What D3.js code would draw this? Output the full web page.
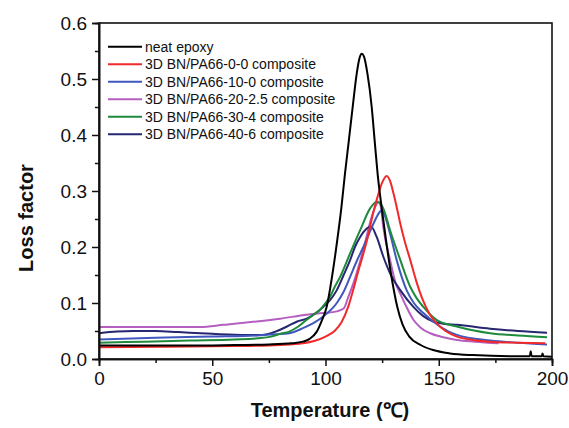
<!DOCTYPE html>
<html>
<head>
<meta charset="utf-8">
<script src="https://cdn.jsdelivr.net/npm/d3@7"></script>
<style>
  html, body { margin: 0; padding: 0; background: #fff; }
  svg { display: block; font-family: "Liberation Sans", Arial, sans-serif; }
</style>
</head>
<body>
<svg id="chart" width="569" height="428"></svg>
<script>
// ---- data ----
const seriesNames = [
  "neat epoxy",
  "3D BN/PA66-0-0 composite",
  "3D BN/PA66-10-0 composite",
  "3D BN/PA66-20-2.5 composite",
  "3D BN/PA66-30-4 composite",
  "3D BN/PA66-40-6 composite"
];
const seriesColors = ["#000000", "#f02a2a", "#4058bd", "#b55fc0", "#1f8a3c", "#262671"];

const neatEpoxy = [[0,0.024],[20,0.024],[40,0.024],[60,0.025],[75,0.026],[85,0.028],[90,0.031],[93,0.036],[96,0.048],[98.5,0.07],[100.5,0.093],[103,0.15],[105.2,0.2125],[107,0.27],[108.6,0.331],[110.3,0.39],[112,0.45],[113.8,0.51],[115,0.537],[116,0.545],[117,0.54],[118.5,0.51],[120.4,0.45],[121.7,0.39],[123,0.331],[124.8,0.27],[126.7,0.2125],[129,0.15],[131.7,0.093],[134,0.062],[137,0.04],[142,0.025],[147.5,0.016],[155,0.01],[165,0.007],[185,0.005],[190.2,0.005],[190.6,0.014],[191,0.005],[195.5,0.005],[195.8,0.01],[196.2,0.005],[200,0.004]];
const bn00 = [[0,0.021],[30,0.022],[60,0.023],[80,0.025],[90,0.028],[95,0.032],[100,0.04],[104,0.05],[107,0.065],[110,0.093],[112,0.12],[114,0.15],[118.5,0.215],[121,0.26],[123,0.29],[125,0.315],[127,0.327],[128.5,0.318],[130,0.296],[131.5,0.27],[133,0.242],[135,0.21],[137.4,0.177],[140,0.14],[143,0.105],[146,0.08],[149,0.064],[153,0.05],[158,0.04],[165,0.034],[172,0.031],[185,0.029],[197,0.028]];
const bn100 = [[0,0.035],[25,0.038],[50,0.04],[70,0.042],[78,0.044],[84,0.046],[90,0.055],[95,0.065],[99,0.076],[105,0.1],[108,0.12],[110.9,0.147],[113.8,0.175],[116.7,0.2],[121.2,0.242],[123.5,0.26],[124.8,0.266],[126,0.258],[128.5,0.224],[131.4,0.177],[135.8,0.123],[139,0.1],[143.2,0.082],[150.5,0.058],[158,0.043],[172.7,0.033],[185,0.029],[197.8,0.026]];
const bn2025 = [[0,0.057],[20,0.057],[44.6,0.057],[55,0.061],[69.6,0.067],[80,0.072],[91.7,0.079],[99,0.082],[105,0.085],[108,0.09],[110,0.11],[112.3,0.135],[116.7,0.195],[120.4,0.254],[122,0.272],[123.5,0.281],[124.5,0.27],[125.5,0.236],[128.5,0.177],[131,0.135],[133,0.117],[135.5,0.095],[138.8,0.07],[142,0.056],[146.2,0.046],[152,0.039],[158,0.034],[166,0.031],[176.4,0.028]];
const bn304 = [[0,0.029],[20,0.031],[40,0.033],[60,0.035],[70,0.037],[76,0.04],[80,0.045],[84,0.049],[88,0.058],[91.7,0.07],[95,0.08],[97.6,0.088],[100,0.1],[102,0.111],[104,0.128],[106.5,0.147],[110.9,0.189],[115.3,0.23],[119.7,0.269],[122.6,0.281],[124,0.278],[125.5,0.269],[128.5,0.23],[131,0.2],[133,0.177],[137.4,0.129],[140,0.11],[143.2,0.093],[149,0.07],[158,0.058],[172.7,0.046],[185,0.042],[197.8,0.039]];
const bn406 = [[0,0.046],[8,0.049],[15,0.05],[25,0.05],[35,0.048],[50,0.045],[65,0.043],[72,0.043],[76,0.046],[78.6,0.05],[83,0.058],[87.5,0.067],[91.7,0.072],[95,0.08],[99,0.093],[102,0.105],[105,0.123],[108,0.15],[110.9,0.177],[113,0.2],[115.3,0.218],[118,0.232],[120,0.237],[122.6,0.218],[125.5,0.183],[128.5,0.153],[133,0.123],[138.8,0.093],[143,0.077],[147.6,0.067],[152,0.063],[158,0.061],[172.7,0.054],[185,0.05],[197.8,0.047]];
const seriesData = [neatEpoxy, bn00, bn100, bn2025, bn304, bn406];

const xTicks = [0, 50, 100, 150, 200];
const xMinorTicks = [25, 75, 125, 175];
const yTicks = [0.0, 0.1, 0.2, 0.3, 0.4, 0.5, 0.6];
const yMinorTicks = [0.05, 0.15, 0.25, 0.35, 0.45, 0.55];
const xTitle = "Temperature (℃)";
const yTitle = "Loss factor";

// ---- layout ----
const svg = d3.select("#chart");
const L = 99, T = 23, W = 453, H = 336;
const x = d3.scaleLinear().domain([0, 200]).range([L, L + W]);
const y = d3.scaleLinear().domain([0, 0.6]).range([T + H, T]);

svg.append("clipPath").attr("id", "clip").append("rect")
  .attr("x", L).attr("y", T).attr("width", W).attr("height", H);
const line = d3.line().x(d => x(d[0])).y(d => y(d[1])).curve(d3.curveMonotoneX);
const g = svg.append("g").attr("clip-path", "url(#clip)");
const order = [3, 5, 2, 4, 1, 0];
order.forEach(i => {
  g.append("path").datum(seriesData[i])
    .attr("fill", "none").attr("stroke", seriesColors[i])
    .attr("stroke-width", 2).attr("stroke-linejoin", "round")
    .attr("d", line);
});

// frame
svg.append("rect").attr("x", L).attr("y", T).attr("width", W).attr("height", H)
  .attr("fill", "none").attr("stroke", "#111").attr("stroke-width", 1.6);

// axes
const xAxis = svg.append("g").attr("transform", `translate(0,${T + H})`)
  .call(d3.axisBottom(x).tickValues(xTicks).tickFormat(d3.format("d")).tickSize(7).tickPadding(6));
const xMinor = svg.append("g").attr("transform", `translate(0,${T + H})`)
  .call(d3.axisBottom(x).tickValues(xMinorTicks).tickFormat("").tickSize(4));
const yAxis = svg.append("g").attr("transform", `translate(${L},0)`)
  .call(d3.axisLeft(y).tickValues(yTicks).tickFormat(d3.format(".1f")).tickSize(7).tickPadding(5));
const yMinor = svg.append("g").attr("transform", `translate(${L},0)`)
  .call(d3.axisLeft(y).tickValues(yMinorTicks).tickFormat("").tickSize(4));

[xAxis, xMinor, yAxis, yMinor].forEach(a => {
  a.select(".domain").attr("stroke", "#111").attr("stroke-width", 1.6);
  a.selectAll(".tick line").attr("stroke", "#111").attr("stroke-width", 1.5);
  a.selectAll(".tick text").attr("fill", "#111").style("font-size", "19px")
    .style("font-family", "'Liberation Sans', Arial, sans-serif");
});
yAxis.selectAll(".tick text").attr("dy", "0.36em");

// titles
svg.append("text").attr("x", 330).attr("y", 417).attr("text-anchor", "middle")
  .style("font-size", "20px").style("font-weight", "bold").attr("fill", "#111")
  .text(xTitle);
svg.append("text").attr("transform", "translate(33,218) rotate(-90)")
  .attr("text-anchor", "middle").style("font-size", "20px").style("font-weight", "bold")
  .attr("fill", "#111").text(yTitle);

// legend
const leg = svg.append("g");
seriesNames.forEach((name, i) => {
  const yy = 46.7 + i * 17.5;
  leg.append("line").attr("x1", 108).attr("x2", 142).attr("y1", yy).attr("y2", yy)
    .attr("stroke", seriesColors[i]).attr("stroke-width", 2);
  leg.append("text").attr("x", 145).attr("y", yy).attr("dy", "0.35em")
    .style("font-size", "14px").attr("fill", "#111").text(name);
});
</script>
</body>
</html>
